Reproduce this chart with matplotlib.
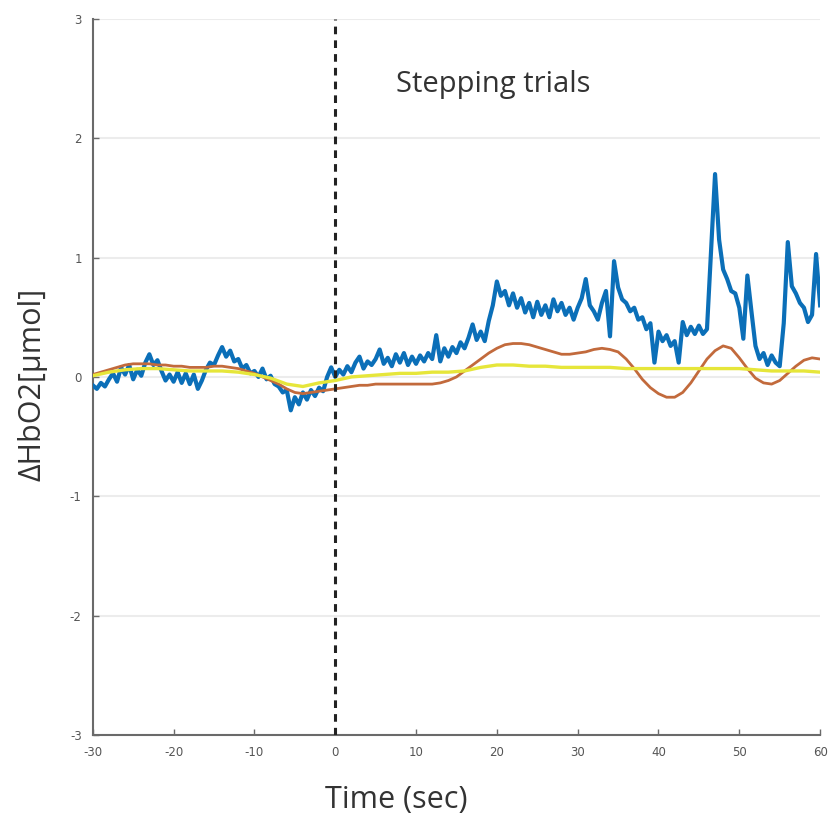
import matplotlib
matplotlib.use("Agg")
import matplotlib.pyplot as plt
import numpy as np

plt.rcParams["axes.unicode_minus"] = False

# blue trace, sampled every 0.5 s from -30 to 60
hbo2_time = np.arange(-30, 60.5, 0.5)
hbo2_raw = [
    -0.07, -0.10, -0.05, -0.08, -0.02, 0.03, -0.04, 0.08, 0.02, 0.10,
    -0.02, 0.06, 0.01, 0.12, 0.19, 0.10, 0.14, 0.05, -0.03, 0.02,
    -0.04, 0.04, -0.05, 0.03, -0.06, 0.02, -0.10, -0.03, 0.06, 0.12,
    0.10, 0.18, 0.25, 0.17, 0.22, 0.13, 0.15, 0.07, 0.10, 0.03,
    0.05, 0.00, 0.07, -0.02, 0.01, -0.06, -0.08, -0.13, -0.11, -0.28,
    -0.17, -0.23, -0.13, -0.19, -0.11, -0.16, -0.09, -0.12, 0.00, 0.08,
    0.00, 0.06, 0.02, 0.09, 0.04, 0.12, 0.17, 0.07, 0.13, 0.10,
    0.15, 0.23, 0.11, 0.16, 0.09, 0.19, 0.12, 0.20, 0.10, 0.17,
    0.11, 0.18, 0.13, 0.20, 0.15, 0.35, 0.13, 0.24, 0.17, 0.25,
    0.20, 0.29, 0.24, 0.33, 0.44, 0.31, 0.38, 0.30, 0.47, 0.60,
    0.80, 0.68, 0.72, 0.60, 0.70, 0.58, 0.66, 0.54, 0.62, 0.50,
    0.63, 0.52, 0.60, 0.50, 0.65, 0.55, 0.62, 0.52, 0.58, 0.48,
    0.58, 0.66, 0.82, 0.60, 0.55, 0.48, 0.62, 0.72, 0.34, 0.97,
    0.75, 0.65, 0.62, 0.55, 0.58, 0.48, 0.50, 0.40, 0.45, 0.12,
    0.38, 0.30, 0.35, 0.26, 0.30, 0.12, 0.46, 0.35, 0.42, 0.36,
    0.43, 0.36, 0.40, 1.05, 1.70, 1.15, 0.90, 0.82, 0.72, 0.70,
    0.58, 0.32, 0.85, 0.55, 0.26, 0.15, 0.20, 0.10, 0.18, 0.12,
    0.09, 0.45, 1.13, 0.76, 0.70, 0.62, 0.58, 0.46, 0.52, 1.03,
    0.60,
]

# orange smooth trace, every 1 s
fit_time = np.arange(-30, 61, 1)
hbo2_fit = [
    0.02, 0.04, 0.06, 0.08, 0.10, 0.11, 0.11, 0.11, 0.10, 0.10,
    0.09, 0.09, 0.08, 0.08, 0.08, 0.09, 0.09, 0.08, 0.07, 0.05,
    0.03, 0.00, -0.03, -0.06, -0.10, -0.13, -0.14, -0.13, -0.12, -0.11,
    -0.10, -0.09, -0.08, -0.07, -0.07, -0.06, -0.06, -0.06, -0.06, -0.06,
    -0.06, -0.06, -0.06, -0.05, -0.03, 0.00, 0.05, 0.10, 0.15, 0.20,
    0.24, 0.27, 0.28, 0.28, 0.27, 0.25, 0.23, 0.21, 0.19, 0.19,
    0.20, 0.21, 0.23, 0.24, 0.23, 0.21, 0.15, 0.07, -0.02, -0.09,
    -0.14, -0.17, -0.17, -0.13, -0.05, 0.05, 0.15, 0.22, 0.26, 0.24,
    0.16, 0.07, -0.01, -0.05, -0.06, -0.03, 0.03, 0.09, 0.14, 0.16,
    0.15,
]

# yellow baseline trace, every 2 s
base_time = np.arange(-30, 62, 2)
hbo2_base = [
    0.01, 0.04, 0.06, 0.07, 0.07, 0.06, 0.05, 0.05, 0.05, 0.04,
    0.02, -0.01, -0.06, -0.08, -0.05, -0.03, 0.00, 0.01, 0.02, 0.03,
    0.03, 0.04, 0.04, 0.05, 0.08, 0.10, 0.10, 0.09, 0.09, 0.08,
    0.08, 0.08, 0.08, 0.07, 0.07, 0.07, 0.07, 0.07, 0.07, 0.07,
    0.07, 0.06, 0.05, 0.05, 0.05, 0.04,
]

x_ticks = [-30, -20, -10, 0, 10, 20, 30, 40, 50, 60]
y_ticks = [-3, -2, -1, 0, 1, 2, 3]

fig = plt.figure(figsize=(8.36, 8.23), dpi=100)
ax = fig.add_axes([0.111, 0.107, 0.870, 0.870])

ax.plot(hbo2_time, hbo2_raw, color="#0b6fb8", lw=3.0, zorder=3)
ax.plot(fit_time, hbo2_fit, color="#c26a3c", lw=2.0, zorder=4)
ax.plot(base_time, hbo2_base, color="#e6e63a", lw=2.4, zorder=5)
ax.axvline(0, color="#222222", lw=2.2, linestyle=(0, (2.5, 2)), zorder=6)

ax.set_xlim(-30, 60)
ax.set_ylim(-3, 3)
ax.set_xticks(x_ticks)
ax.set_yticks(y_ticks)
ax.grid(axis="y", color="#ececec", lw=1.5)
ax.set_axisbelow(True)

for side in ["top", "right"]:
    ax.spines[side].set_visible(False)
for side in ["left", "bottom"]:
    ax.spines[side].set_color("#6a6a6a")
    ax.spines[side].set_linewidth(1.5)

ax.tick_params(direction="in", length=4, width=1, colors="#6a6a6a",
               labelsize=8.5, labelcolor="#555555", pad=8)

ax.text(7.5, 2.45, "Stepping trials", fontsize=21, family="Open Sans",
        color="#333333", va="center")
ax.set_xlabel("Time (sec)", fontsize=22, family="Open Sans", color="#333333")
ax.set_ylabel("\u0394HbO2[\u03bcmol]", fontsize=22, family="Open Sans",
              color="#333333")
ax.yaxis.set_label_coords(-0.062, 0.49)
ax.xaxis.set_label_coords(0.417, -0.07)

fig.savefig("out.png", dpi=100)
